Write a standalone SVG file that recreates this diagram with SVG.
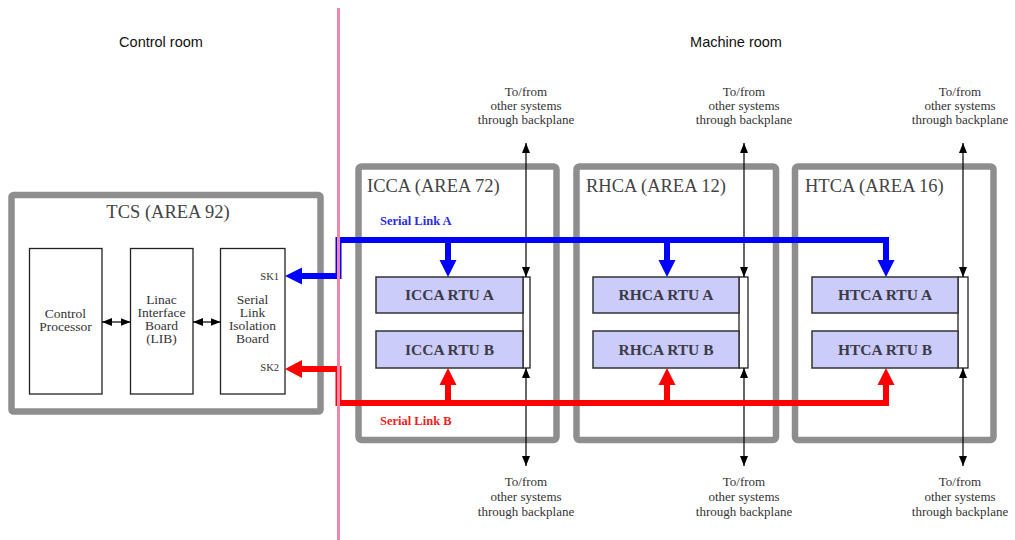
<svg xmlns="http://www.w3.org/2000/svg" width="1015" height="540" viewBox="0 0 1015 540">
<style>
.area{fill:#fff;stroke:#8e8e8e;stroke-width:6.5}
.inner{fill:#fff;stroke:#222;stroke-width:1.3}
.rtu{fill:#ccccfa;stroke:#333;stroke-width:1.5}
.bp{fill:#fff;stroke:#222;stroke-width:1.3}
.title{font-family:"Liberation Serif",serif;font-size:18.5px;fill:#444}
.rtut{font-family:"Liberation Serif",serif;font-size:15.5px;font-weight:bold;fill:#3a3a48;text-anchor:middle}
.small{font-family:"Liberation Serif",serif;font-size:13px;fill:#333;text-anchor:middle}
.box{font-family:"Liberation Serif",serif;font-size:13.5px;fill:#333;text-anchor:middle}
.sk{font-family:"Liberation Serif",serif;font-size:10.5px;fill:#333;text-anchor:end}
.room{font-family:"Liberation Sans",Arial,sans-serif;font-size:14.5px;fill:#111;text-anchor:middle}
.thin{stroke:#000;stroke-width:1.2;fill:none;marker-start:url(#ah);marker-end:url(#ah)}
.blue{stroke:#0000ff;stroke-width:6;fill:none}
.red{stroke:#ff0000;stroke-width:6;fill:none}
</style>
<defs>
<marker id="ah" markerUnits="userSpaceOnUse" markerWidth="10" markerHeight="8" refX="10" refY="4" orient="auto-start-reverse"><path d="M0,0 L10,4 L0,8 z" fill="#000"/></marker>
</defs>
<rect width="1015" height="540" fill="#fff"/>
<text class="room" x="161" y="47">Control room</text>
<text class="room" x="736" y="47">Machine room</text>

<g id="tcs">
<rect class="area" x="11.5" y="195" width="309" height="216.5" rx="2"/>
<text class="title" x="168" y="218" text-anchor="middle">TCS (AREA 92)</text>
</g>
<g id="control-processor">
<rect class="inner" x="29.5" y="248.5" width="72.5" height="145.5"/>
<text class="box" x="65.5" y="318">Control</text>
<text class="box" x="65.5" y="331">Processor</text>
</g>
<g id="lib">
<rect class="inner" x="130.5" y="248.5" width="62.5" height="145.5"/>
<text class="box" x="161.5" y="304">Linac</text>
<text class="box" x="161.5" y="317">Interface</text>
<text class="box" x="161.5" y="330">Board</text>
<text class="box" x="161.5" y="343">(LIB)</text>
</g>
<g id="slib">
<rect class="inner" x="220.5" y="248.5" width="64.5" height="145.5"/>
<text class="box" x="252.5" y="304">Serial</text>
<text class="box" x="252.5" y="317">Link</text>
<text class="box" x="252.5" y="330">Isolation</text>
<text class="box" x="252.5" y="343">Board</text>
<text class="sk" x="279" y="280">SK1</text>
<text class="sk" x="279" y="371">SK2</text>
</g>

<g id="icca">
<rect class="area" x="358.5" y="166.5" width="198" height="273.5" rx="3"/>
<text class="title" x="367" y="192">ICCA (AREA 72)</text>
</g>
<g id="rhca">
<rect class="area" x="576.5" y="166.5" width="199.5" height="273.5" rx="3"/>
<text class="title" x="586" y="192">RHCA (AREA 12)</text>
</g>
<g id="htca">
<rect class="area" x="795" y="166.5" width="198.5" height="273.5" rx="3"/>
<text class="title" x="805" y="192">HTCA (AREA 16)</text>
</g>

<g id="icca-rtu">
<rect class="bp" x="523" y="277" width="7" height="91"/>
<rect class="rtu" x="376" y="277" width="147" height="36"/>
<text class="rtut" x="449.5" y="300">ICCA RTU A</text>
<rect class="rtu" x="376" y="331" width="147" height="37"/>
<text class="rtut" x="449.5" y="355">ICCA RTU B</text>
</g>
<g id="rhca-rtu">
<rect class="bp" x="739" y="277" width="9" height="91"/>
<rect class="rtu" x="593" y="277" width="146" height="36"/>
<text class="rtut" x="666" y="300">RHCA RTU A</text>
<rect class="rtu" x="593" y="331" width="146" height="37"/>
<text class="rtut" x="666" y="355">RHCA RTU B</text>
</g>
<g id="htca-rtu">
<rect class="bp" x="958" y="277" width="10" height="91"/>
<rect class="rtu" x="812" y="277" width="146" height="36"/>
<text class="rtut" x="885" y="300">HTCA RTU A</text>
<rect class="rtu" x="812" y="331" width="146" height="37"/>
<text class="rtut" x="885" y="355">HTCA RTU B</text>
</g>

<g id="labels">
<text class="small" x="526" y="96">To/from</text>
<text class="small" x="526" y="110">other systems</text>
<text class="small" x="526" y="124">through backplane</text>
<text class="small" x="744" y="96">To/from</text>
<text class="small" x="744" y="110">other systems</text>
<text class="small" x="744" y="124">through backplane</text>
<text class="small" x="960" y="96">To/from</text>
<text class="small" x="960" y="110">other systems</text>
<text class="small" x="960" y="124">through backplane</text>
<text class="small" x="526" y="486">To/from</text>
<text class="small" x="526" y="501">other systems</text>
<text class="small" x="526" y="516">through backplane</text>
<text class="small" x="744" y="486">To/from</text>
<text class="small" x="744" y="501">other systems</text>
<text class="small" x="744" y="516">through backplane</text>
<text class="small" x="960" y="486">To/from</text>
<text class="small" x="960" y="501">other systems</text>
<text class="small" x="960" y="516">through backplane</text>
<text x="380" y="225" font-family="Liberation Serif, serif" font-size="12.5" font-weight="bold" fill="#2a2ae8">Serial Link A</text>
<text x="380" y="425" font-family="Liberation Serif, serif" font-size="12.5" font-weight="bold" fill="#ee2020">Serial Link B</text>
</g>

<g id="connectors">
<line class="thin" x1="102" y1="322" x2="130.5" y2="322"/>
<line class="thin" x1="193" y1="322" x2="220.5" y2="322"/>
<line class="thin" x1="526" y1="143" x2="526" y2="277"/>
<line class="thin" x1="526" y1="368" x2="526" y2="466"/>
<line class="thin" x1="744" y1="143" x2="744" y2="277"/>
<line class="thin" x1="744" y1="368" x2="744" y2="466"/>
<line class="thin" x1="963" y1="143" x2="963" y2="277"/>
<line class="thin" x1="963" y1="368" x2="963" y2="466"/>

<path class="blue" d="M301,276 H338.5 V240 H886 V262"/>
<path class="blue" d="M448,240 V262 M667,240 V262"/>
<polygon fill="#0000ff" points="285,276 302,267.5 302,284.5"/>
<polygon fill="#0000ff" points="439.5,260 456.5,260 448,277"/>
<polygon fill="#0000ff" points="658.5,260 675.5,260 667,277"/>
<polygon fill="#0000ff" points="877.5,260 894.5,260 886,277"/>

<path class="red" d="M301,369 H338.5 V403 H886 V384"/>
<path class="red" d="M448,403 V384 M667,403 V384"/>
<polygon fill="#ff0000" points="285,369 302,360 302,378"/>
<polygon fill="#ff0000" points="439.5,385 456.5,385 448,368"/>
<polygon fill="#ff0000" points="658.5,385 675.5,385 667,368"/>
<polygon fill="#ff0000" points="877.5,385 894.5,385 886,368"/>
</g>

<line id="divider" x1="338.5" y1="8" x2="338.5" y2="540" stroke="#f085aa" stroke-width="3"/>
</svg>
